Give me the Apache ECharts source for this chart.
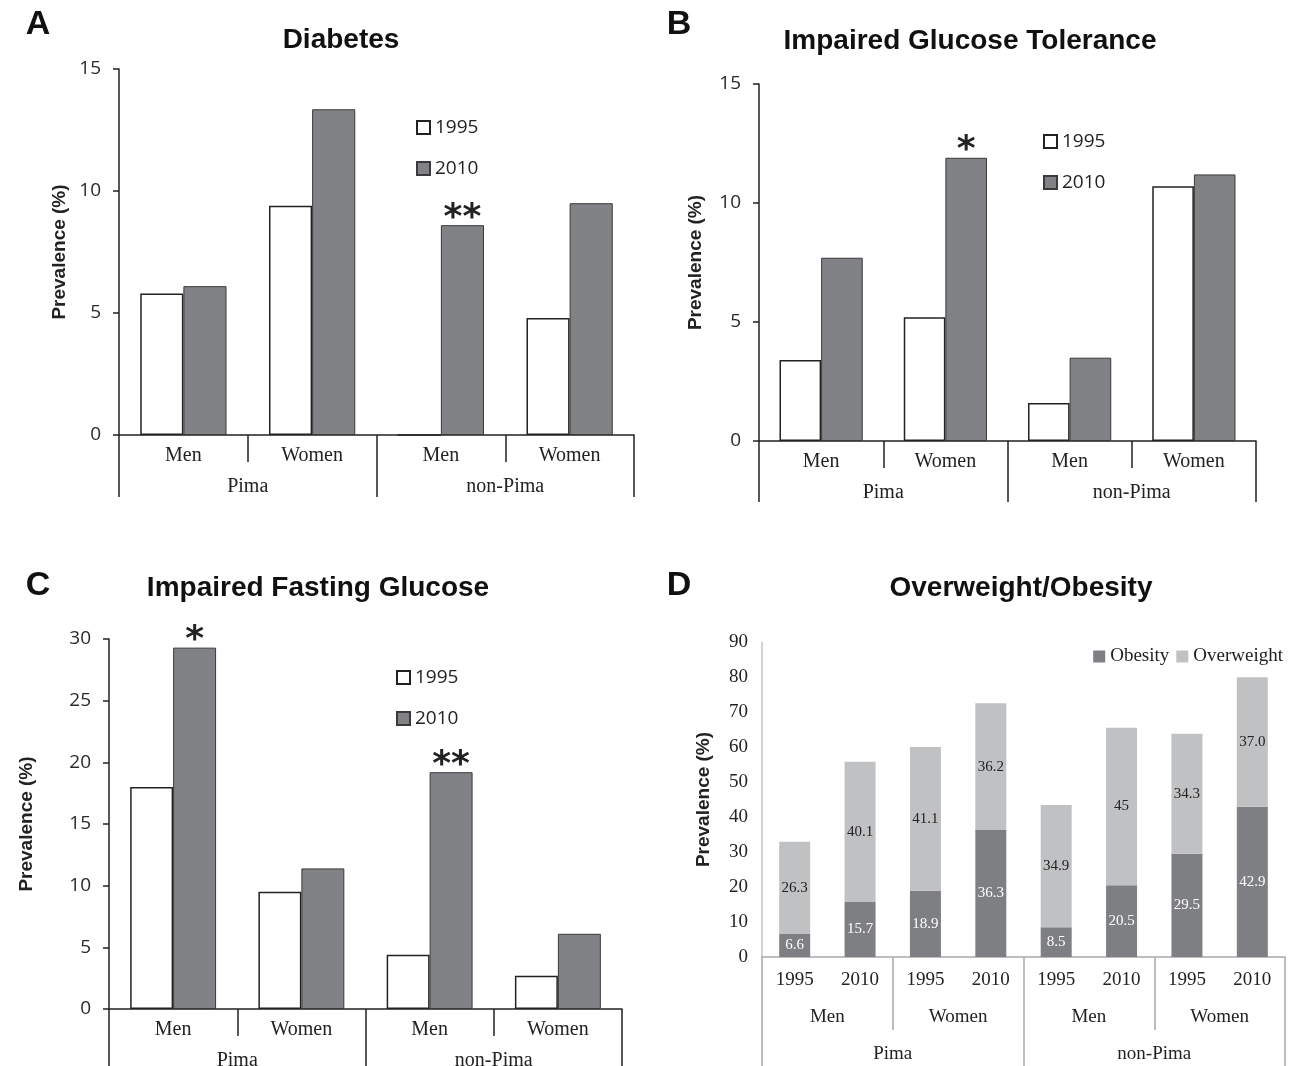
<!DOCTYPE html>
<html><head><meta charset="utf-8">
<script src="https://cdn.jsdelivr.net/npm/echarts@6/dist/echarts.min.js"></script>
<style>html,body{margin:0;padding:0;background:#fff}#c{width:1300px;height:1066px}</style>
</head><body><div id="c"></div>
<script>
// ---- data ----
const sexCats = ['Men', 'Women', 'Men', 'Women'];
const popCats = ['Pima', 'non-Pima'];
const yearNames = ['1995', '2010'];

const diabetes1995 = [5.8, 9.4, 0, 4.8];
const diabetes2010 = [6.1, 13.35, 8.6, 9.5];
const diabetesSig = ['', '', '**', ''];

const igt1995 = [3.4, 5.2, 1.6, 10.7];
const igt2010 = [7.7, 11.9, 3.5, 11.2];
const igtSig = ['', '*', '', ''];

const ifg1995 = [18.0, 9.5, 4.4, 2.7];
const ifg2010 = [29.3, 11.4, 19.2, 6.1];
const ifgSig = ['*', '', '**', ''];

const yearCats = ['1995', '2010', '1995', '2010', '1995', '2010', '1995', '2010'];
const obesity = [6.6, 15.7, 18.9, 36.3, 8.5, 20.5, 29.5, 42.9];
const overweight = [26.3, 40.1, 41.1, 36.2, 34.9, 45, 34.3, 37.0];
const obesityLabels = ['6.6', '15.7', '18.9', '36.3', '8.5', '20.5', '29.5', '42.9'];
const overweightLabels = ['26.3', '40.1', '41.1', '36.2', '34.9', '45', '34.3', '37.0'];

// ---- styles ----
const SERIF = 'Liberation Serif';
const SANS = 'Liberation Sans';
const TICKSANS = 'Open Sans';
const INK = '#222';

const grids = [], xAxes = [], yAxes = [], series = [], legends = [];

function panelABC(gi, grid, v95, v10, sig, max, interval, nameGap, popTickLen, legendPos) {
  grids.push(Object.assign({ outerBoundsMode: 'none', containLabel: false }, grid));
  xAxes.push({
    gridIndex: gi, type: 'category', data: sexCats, position: 'bottom',
    axisLine: { show: true, lineStyle: { color: INK, width: 1.5 } },
    axisTick: { show: true, length: 27, lineStyle: { color: INK, width: 1.5 } },
    axisLabel: { margin: 11, fontFamily: SERIF, fontSize: 20, color: INK }
  });
  xAxes.push({
    gridIndex: gi, type: 'category', data: popCats, position: 'bottom',
    axisLine: { show: false },
    axisTick: { show: true, length: popTickLen, lineStyle: { color: INK, width: 1.5 } },
    axisLabel: { margin: 42, fontFamily: SERIF, fontSize: 20, color: INK }
  });
  yAxes.push({
    gridIndex: gi, type: 'value', min: 0, max: max, interval: interval,
    axisLine: { show: true, lineStyle: { color: INK, width: 1.5 } },
    axisTick: { show: true, length: 6, lineStyle: { color: INK, width: 1.5 } },
    splitLine: { show: false },
    axisLabel: { margin: 18, fontFamily: TICKSANS, fontSize: 19, color: '#2a2a2a' },
    name: 'Prevalence (%)', nameLocation: 'middle', nameGap: nameGap,
    nameTextStyle: { fontFamily: SANS, fontWeight: 'bold', fontSize: 19, color: INK }
  });
  const xi = gi * 2;
  series.push({
    type: 'bar', name: '1995', xAxisIndex: xi, yAxisIndex: gi, data: v95,
    barGap: '0%', barCategoryGap: '33%',
    itemStyle: { color: '#ffffff', borderColor: INK, borderWidth: 1.5 }
  });
  series.push({
    type: 'bar', name: '2010', xAxisIndex: xi, yAxisIndex: gi, data: v10,
    barGap: '0%', barCategoryGap: '33%',
    itemStyle: { color: '#818286', borderColor: '#3a3a3a', borderWidth: 1 },
    label: {
      show: true, position: 'top', distance: -11,
      formatter: p => sig[p.dataIndex],
      fontFamily: 'DejaVu Sans', fontWeight: 'bold', fontSize: 36, color: INK
    }
  });
  legends.push({
    orient: 'vertical', left: legendPos[0], top: legendPos[1],
    itemWidth: 13, itemHeight: 13, itemGap: 22, icon: 'rect',
    textStyle: { fontFamily: TICKSANS, fontSize: 19, color: INK },
    data: yearNames
  });
}

panelABC(0, { left: 119, right: 666, top: 69, bottom: 631 },
  diabetes1995, diabetes2010, diabetesSig, 15, 5, 50, 62, [411, 113]);
panelABC(1, { left: 759, right: 44, top: 84, bottom: 625 },
  igt1995, igt2010, igtSig, 15, 5, 54, 61, [1038, 127]);
panelABC(2, { left: 109, right: 678, top: 639, bottom: 57 },
  ifg1995, ifg2010, ifgSig, 30, 5, 73, 70, [391, 663]);

// ---- panel D ----
const GRAYLINE = '#a8a8a8';
grids.push({ left: 762, right: 15, top: 642, bottom: 109, outerBoundsMode: 'none', containLabel: false });
xAxes.push({
  gridIndex: 3, type: 'category', data: yearCats, position: 'bottom',
  axisLine: { show: true, lineStyle: { color: GRAYLINE, width: 1.5 } },
  axisTick: { show: false },
  axisLabel: { margin: 14, fontFamily: SERIF, fontSize: 19, color: INK, interval: 0 }
});
xAxes.push({
  gridIndex: 3, type: 'category', data: sexCats, position: 'bottom',
  axisLine: { show: false },
  axisTick: { show: true, length: 73, lineStyle: { color: GRAYLINE, width: 1.5 } },
  axisLabel: { margin: 51, fontFamily: SERIF, fontSize: 19, color: INK }
});
xAxes.push({
  gridIndex: 3, type: 'category', data: popCats, position: 'bottom',
  axisLine: { show: false },
  axisTick: { show: true, length: 115, lineStyle: { color: GRAYLINE, width: 1.5 } },
  axisLabel: { margin: 88, fontFamily: SERIF, fontSize: 19, color: INK }
});
yAxes.push({
  gridIndex: 3, type: 'value', min: 0, max: 90, interval: 10,
  axisLine: { show: true, lineStyle: { color: '#c4c4c4', width: 1.5 } },
  axisTick: { show: false },
  splitLine: { show: false },
  axisLabel: { margin: 14, fontFamily: SERIF, fontSize: 19, color: INK },
  name: 'Prevalence (%)', nameLocation: 'middle', nameGap: 49,
  nameTextStyle: { fontFamily: SANS, fontWeight: 'bold', fontSize: 19, color: INK }
});
series.push({
  type: 'bar', name: 'Obesity', stack: 'bmi', xAxisIndex: 6, yAxisIndex: 3,
  data: obesity, barWidth: 31,
  itemStyle: { color: '#7e7f83' },
  label: { show: true, position: 'inside', color: '#ffffff', fontFamily: SERIF, fontSize: 15,
    formatter: p => obesityLabels[p.dataIndex] }
});
series.push({
  type: 'bar', name: 'Overweight', stack: 'bmi', xAxisIndex: 6, yAxisIndex: 3,
  data: overweight, barWidth: 31,
  itemStyle: { color: '#c0c1c3' },
  label: { show: true, position: 'inside', color: INK, fontFamily: SERIF, fontSize: 15,
    formatter: p => overweightLabels[p.dataIndex] }
});
legends.push({
  orient: 'horizontal', right: 12, top: 642,
  itemWidth: 12, itemHeight: 12, itemGap: 7, icon: 'rect',
  textStyle: { fontFamily: SERIF, fontSize: 19, color: INK },
  data: ['Obesity', 'Overweight']
});

// ---- titles ----
function txt(x, y, text, size) {
  return { type: 'text', x: x, y: y, silent: true,
    style: { text: text, fill: '#111', font: 'bold ' + size + 'px "Liberation Sans"', align: 'center', verticalAlign: 'middle' } };
}
const graphics = [
  txt(38, 25, 'A', 34), txt(679, 25, 'B', 34), txt(38, 586, 'C', 34), txt(679, 586, 'D', 34),
  txt(341, 40, 'Diabetes', 28), txt(970, 41, 'Impaired Glucose Tolerance', 28),
  txt(318, 588, 'Impaired Fasting Glucose', 28), txt(1021, 588, 'Overweight/Obesity', 28)
];

const chart = echarts.init(document.getElementById('c'), null, { renderer: 'canvas' });
chart.setOption({
  animation: false,
  backgroundColor: '#ffffff',
  grid: grids, xAxis: xAxes, yAxis: yAxes, series: series, legend: legends,
  graphic: graphics
});
</script></body></html>
